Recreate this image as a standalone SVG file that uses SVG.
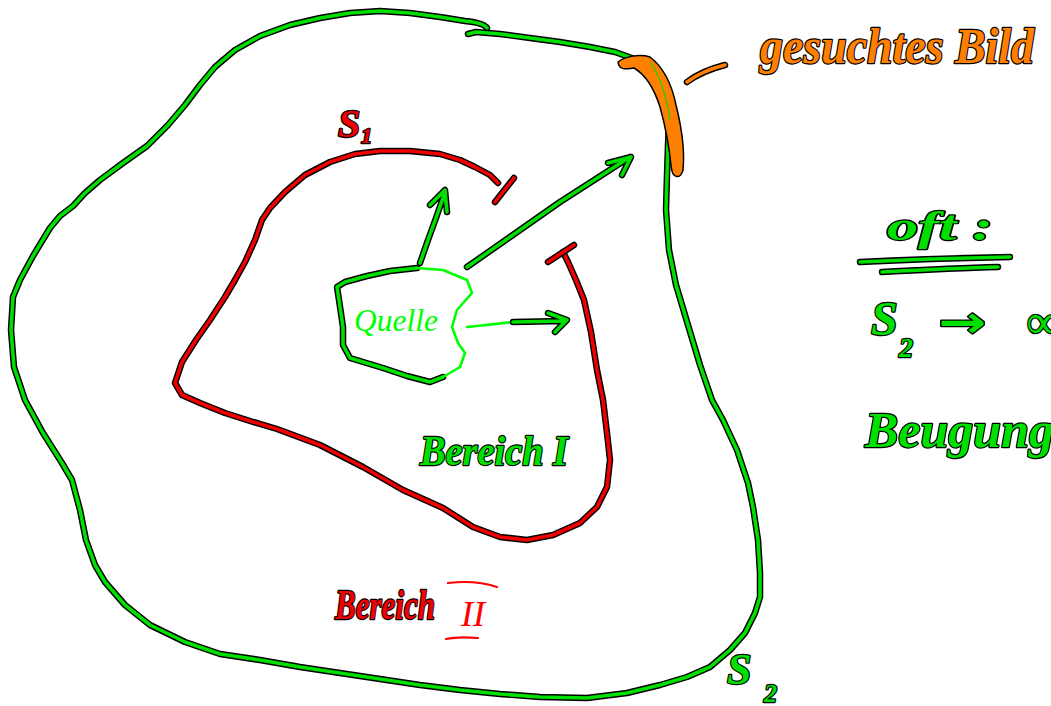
<svg xmlns="http://www.w3.org/2000/svg" xmlns:xlink="http://www.w3.org/1999/xlink" width="1051" height="706" viewBox="0 0 1051 706">
<style>
.ol{fill:none;stroke:#000;stroke-width:6.5;stroke-linecap:round;stroke-linejoin:round}
.g{fill:none;stroke:#00e000;stroke-width:3.6;stroke-linecap:round;stroke-linejoin:round}
.gb{fill:none;stroke:#00ff00;stroke-width:2.6;stroke-linecap:round;stroke-linejoin:round}
.r{fill:none;stroke:#f00000;stroke-width:3.6;stroke-linecap:round;stroke-linejoin:round}
.o{fill:none;stroke:#ff8000;stroke-width:3.6;stroke-linecap:round;stroke-linejoin:round}
.t{font-family:"Liberation Serif",serif;font-style:italic;font-weight:bold;paint-order:stroke;stroke:#000;stroke-width:2.4;stroke-linejoin:round}
.tg{fill:#00e000}.tr{fill:#f00000}.to{fill:#ff8000}
.thin{font-family:"Liberation Serif",serif;font-style:italic}
</style>
<defs>
<path id="s2a" d="M487,28 Q484,23 465,21 L440,17 410,13 380,11 350,13 320,18 290,25 260,36 235,50 215,67 200,85 185,105 168,125 147,146 123,163 100,180 85,193 73,206 60,216 50,228 33,256 20,280 13,297 11,330 14,367 25,400 43,433 62,463 72,480 80,510 86,540 95,565 105,582 125,605 150,625 185,642 220,654 260,660 300,667 340,673 380,679 420,685 460,690 500,694 540,697 587,698 627,693 660,685 687,677 710,667 730,650 745,633 755,613 760,597 760,573 758,540 753,507 748,483 737,450 723,420 712,400 700,365 688,325 676,285 669,250 666,210 667,175 668,145 669,120"/>
<path id="s2b" d="M468,34 L476,32 500,34 530,38 560,42 590,47 615,52 640,61 655,72 664,90 669,120"/>
<path id="s1" d="M498,183 L490,175 475,167 460,160 440,154 410,151 380,151 355,154 330,162 305,175 285,192 270,208 262,220 255,240 245,262 235,280 225,297 210,320 196,340 182,362 175,383 182,395 200,403 225,413 250,421 277,429 320,445 363,467 403,490 443,508 473,527 500,537 527,540 553,535 580,523 597,507 607,487 610,460 607,433 603,400 597,370 591,332 584,300 576,280 568,262 563,252"/>
<path id="tk1" d="M495,202 L514,178"/>
<path id="tk2" d="M548,262 L574,245"/>
<path id="a1" d="M420,263 L428,240 436,218 445,192 M430,205 L445,190 447,212"/>
<path id="a2" d="M467,267 L510,237 560,202 630,157 M608,163 L631,157 622,175"/>
<path id="a3" d="M513,322 L565,321 M548,313 L567,320 555,332"/>
<path id="qa" d="M417,268 L390,271 367,276 345,282 337,287 339,300 343,327 343,345 350,358 383,368 407,376 430,382 443,377"/>
<path id="ul" d="M860,262 C 900,260 960,258 1010,257 M882,272 C 920,270 960,268 998,267"/>
<path id="dash" d="M687,82 C 695,76 705,70 725,65"/>
</defs>
<g id="connectors">
<g id="S2-curve">
<use xlink:href="#s2a" class="ol"/><use xlink:href="#s2a" class="g"/>
<use xlink:href="#s2b" class="ol"/><use xlink:href="#s2b" class="g"/>
</g>
<g id="S1-curve">
<use xlink:href="#s1" class="ol"/><use xlink:href="#s1" class="r"/>
<use xlink:href="#tk1" class="ol"/><use xlink:href="#tk1" class="r"/>
<use xlink:href="#tk2" class="ol"/><use xlink:href="#tk2" class="r"/>
</g>
<g id="arrows">
<use xlink:href="#a1" class="ol"/><use xlink:href="#a1" class="g"/>
<use xlink:href="#a2" class="ol"/><use xlink:href="#a2" class="g"/>
<path d="M467,327 L513,322" class="gb"/>
<use xlink:href="#a3" class="ol"/><use xlink:href="#a3" class="g"/>
</g>
</g>
<g id="image-patch">
<path d="M618,62 C 625,56 640,54 650,57 C 663,67 672,85 676,105 C 681,125 685,150 683,170 C 681,179 672,180 671,165 C 669,145 665,125 660,107 C 654,88 646,75 634,68 C 627,69 619,71 618,62 Z" fill="#ff8000" stroke="#000" stroke-width="1.5" stroke-linejoin="round"/>
<path d="M650,62 C 660,75 666,95 670,120" fill="none" stroke="#00e000" stroke-width="1.2"/>
<use xlink:href="#dash" class="ol"/><use xlink:href="#dash" class="o"/>
<text class="t to" x="760" y="63" font-size="50" textLength="274" lengthAdjust="spacingAndGlyphs">gesuchtes Bild</text>
</g>
<g id="quelle">
<use xlink:href="#qa" class="ol"/><use xlink:href="#qa" class="g"/>
<path d="M417,268 L443,270 467,280 472,293 457,310 452,327 458,343 465,353 460,367 443,377" class="gb"/>
<text class="thin" x="354" y="331" font-size="31" fill="#00ff00" textLength="84" lengthAdjust="spacingAndGlyphs">Quelle</text>
</g>
<g id="label-S1">
<text class="t tr" x="338" y="137" font-size="40">S</text>
<text class="t tr" x="361" y="143" font-size="22">1</text>
</g>
<g id="label-S2">
<text class="t tg" x="727" y="684" font-size="44">S</text>
<text class="t tg" x="764" y="702" font-size="26">2</text>
</g>
<g id="bereich1">
<text class="t tg" x="420" y="465" font-size="42" textLength="148" lengthAdjust="spacingAndGlyphs">Bereich I</text>
</g>
<g id="bereich2">
<text class="t tr" x="335" y="619" font-size="42" textLength="100" lengthAdjust="spacingAndGlyphs">Bereich</text>
<text class="thin" x="461" y="626" font-size="36" fill="#ff0000">II</text>
<path d="M448,583 C 465,581 482,582 497,587 M446,639 C 455,637 466,637 478,638" fill="none" stroke="#ff0000" stroke-width="2.2" stroke-linecap="round"/>
</g>
<g id="note">
<text class="t tg" x="887" y="240" font-size="42" textLength="106" lengthAdjust="spacingAndGlyphs">oft :</text>
<use xlink:href="#ul" class="ol"/><use xlink:href="#ul" class="g"/>
<text class="t tg" x="871" y="335" font-size="48">S</text>
<text class="t tg" x="899" y="357" font-size="28">2</text>
<text class="t tg" x="938" y="337" font-size="44" textLength="48" lengthAdjust="spacingAndGlyphs" style="font-family:'DejaVu Sans',sans-serif;font-style:normal">→</text>
<text class="t tg" x="1026" y="338" font-size="48">∞</text>
<text class="t tg" x="865" y="447" font-size="50">Beugungsproblem</text>
</g>
</svg>
